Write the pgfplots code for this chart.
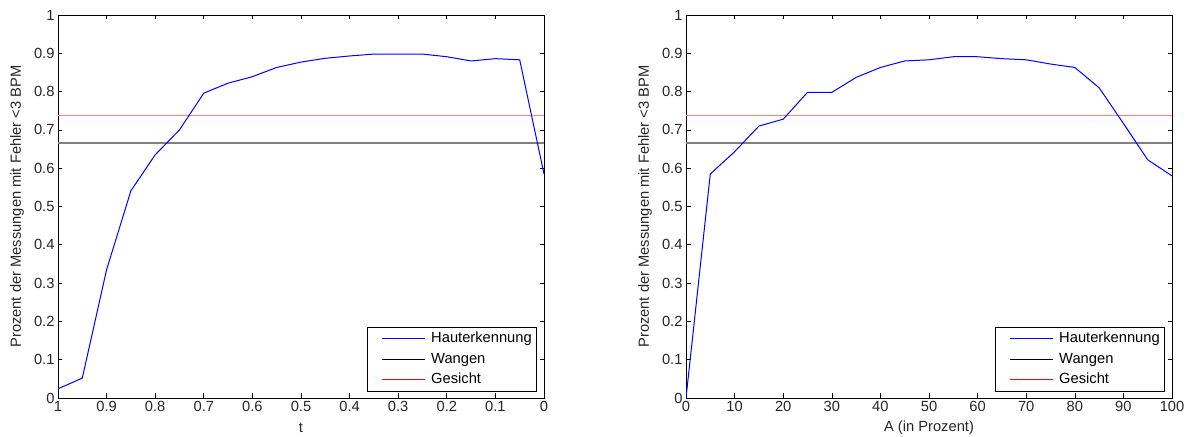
\documentclass[border=0pt]{standalone}
\usepackage{fontspec}
\setmainfont{Liberation Sans}
\usepackage{pgfplots}
\pgfplotsset{compat=1.18}

\definecolor{mblue}{RGB}{0,0,255}
\definecolor{mred}{RGB}{255,0,0}
\definecolor{lred}{RGB}{255,128,128}
\definecolor{lgray}{RGB}{128,128,128}
\newcommand\chartfont{\fontsize{14.7bp}{17bp}\selectfont}

\pgfplotsset{
  mlab/.style={
    scale only axis, width=486bp, height=383bp, anchor=south west,
    ymin=0, ymax=1,
    ytick={0,0.1,0.2,0.3,0.4,0.5,0.6,0.7,0.8,0.9,1},
    tick align=inside, major tick length=4.5bp,
    every tick/.style={black, line width=0.6bp},
    axis line style={black, line width=0.9bp},
    tick label style={font=\chartfont, text=black!85},
    /pgf/number format/assume math mode=true,
    /pgf/number format/fixed,
    label style={font=\chartfont, text=black!85},
    ylabel={Prozent der Messungen mit Fehler <3 BPM},
    ylabel style={at={(axis description cs:-0.084,0.5)}, anchor=center},
    xlabel style={at={(axis description cs:0.5,-0.078)}, anchor=center},
    legend style={at={(axis description cs:0.986,0.016)}, anchor=south east,
      draw=black, line width=0.9bp, font=\chartfont, row sep=7bp,
      inner xsep=5bp, inner ysep=4.7bp,
      nodes={inner sep=0bp, text height=10.5bp, text depth=3bp}},
    legend cell align=left,
    legend image code/.code={%
      \path[draw=none] (-5bp,0bp) -- (54bp,0bp);
      \draw[##1] (5bp,0bp) -- (48bp,0bp);},
    curve/.style={draw=mblue, line width=1bp, forget plot},
    hline/.style={line width=1.6bp, forget plot},
  }
}

\begin{document}
\begin{tikzpicture}
\useasboundingbox (0,0) rectangle (1190bp,437bp);

\begin{axis}[mlab, at={(58bp,39bp)}, x dir=reverse, xmin=0, xmax=1,
  xtick={0,0.1,0.2,0.3,0.4,0.5,0.6,0.7,0.8,0.9,1}, xlabel={t}]
\addplot[draw=lgray, hline] coordinates {(0,0.666) (1,0.666)};
\addplot[draw=lred, hline] coordinates {(0,0.738) (1,0.738)};
\addplot[curve] coordinates {
  (1,0.024) (0.95,0.052) (0.9,0.335) (0.85,0.541) (0.8,0.635) (0.75,0.700)
  (0.7,0.796) (0.65,0.822) (0.6,0.839) (0.55,0.863) (0.5,0.877) (0.45,0.887)
  (0.4,0.893) (0.35,0.898) (0.3,0.898) (0.25,0.898) (0.2,0.891) (0.15,0.880)
  (0.1,0.886) (0.05,0.883) (0,0.585)};
\addlegendimage{draw=mblue, line width=1bp}
\addlegendentry{Hauterkennung}
\addlegendimage{draw=black, line width=1bp}
\addlegendentry{Wangen}
\addlegendimage{draw=mred, line width=1bp}
\addlegendentry{Gesicht}
\end{axis}

\begin{axis}[mlab, at={(686bp,39bp)}, xmin=0, xmax=100,
  xtick={0,10,20,30,40,50,60,70,80,90,100}, xlabel={A (in Prozent)}]
\addplot[draw=lgray, hline] coordinates {(0,0.666) (100,0.666)};
\addplot[draw=lred, hline] coordinates {(0,0.738) (100,0.738)};
\addplot[curve] coordinates {
  (0,0) (5,0.585) (10,0.643) (15,0.710) (20,0.728) (25,0.798) (30,0.798)
  (35,0.837) (40,0.863) (45,0.880) (50,0.883) (55,0.891) (60,0.891)
  (65,0.886) (70,0.883) (75,0.872) (80,0.863) (85,0.810) (90,0.717)
  (95,0.622) (100,0.580)};
\addlegendimage{draw=mblue, line width=1bp}
\addlegendentry{Hauterkennung}
\addlegendimage{draw=black, line width=1bp}
\addlegendentry{Wangen}
\addlegendimage{draw=mred, line width=1bp}
\addlegendentry{Gesicht}
\end{axis}
\end{tikzpicture}
\end{document}
